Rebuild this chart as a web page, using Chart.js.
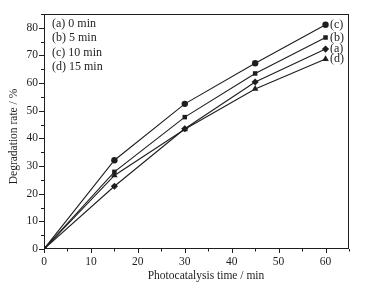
<!DOCTYPE html>
<html>
<head>
<meta charset="utf-8">
<script src="https://cdn.jsdelivr.net/npm/chart.js@4"></script>
<style>
  html, body { margin: 0; padding: 0; background: #fff; }
  #wrap { width: 371px; height: 288px; }
</style>
</head>
<body>
<div id="wrap"><canvas id="grafica" width="371" height="288"></canvas></div>
<script>
// Datos
const tiempos = [0, 15, 30, 45, 60];
const serieA = [0, 22.7, 43.5, 60.4, 72.3];
const serieB = [0, 27.9, 47.7, 63.5, 76.5];
const serieC = [0, 32.1, 52.5, 67.2, 81.1];
const serieD = [0, 26.6, 43.3, 57.9, 68.7];
const leyendas = ['(a) 0 min', '(b) 5 min', '(c) 10 min', '(d) 15 min'];
const etiquetas = ['(a)', '(b)', '(c)', '(d)'];
const marcadores = ['rectRot', 'rect', 'circle', 'triangle'];
const tituloX = 'Photocatalysis time / min';
const tituloY = 'Degradation rate / %';

const fuente = 'Liberation Serif';
const tinta = '#1e1e1e';

function puntos(valores) {
  return tiempos.map((t, i) => ({ x: t, y: valores[i] }));
}

const series = [serieA, serieB, serieC, serieD];
const datasets = series.map((s, i) => ({
  label: leyendas[i],
  data: puntos(s),
  borderColor: tinta,
  backgroundColor: tinta,
  borderWidth: 1.1,
  pointStyle: marcadores[i],
  pointRadius: marcadores[i] === 'rectRot' ? 3.6 : (marcadores[i] === 'triangle' ? 3.8 : 3.2),
  pointBorderWidth: 0,
  showLine: true,
  tension: 0
}));

// Marco, ticks menores, titulos y textos dentro del grafico
const decoracion = {
  id: 'decoracion',
  afterDraw(chart) {
    const c = chart.ctx;
    const a = chart.chartArea;
    const x = chart.scales.x;
    const y = chart.scales.y;
    c.save();
    c.strokeStyle = tinta;
    c.lineWidth = 1;
    c.strokeRect(a.left + 0.5, a.top + 0.5, a.right - a.left - 1, a.bottom - a.top - 1);

    c.beginPath();
    for (let v = 0; v <= 65; v += 5) {
      const px = Math.round(x.getPixelForValue(v)) + 0.5;
      const largo = v % 10 === 0 ? 4 : 2.5;
      c.moveTo(px, a.bottom);
      c.lineTo(px, a.bottom + largo);
    }
    for (let v = 0; v <= 85; v += 5) {
      const py = Math.round(y.getPixelForValue(v)) + 0.5;
      const largo = v % 10 === 0 ? 5 : 3;
      c.moveTo(a.left, py);
      c.lineTo(a.left - largo, py);
    }
    c.stroke();

    c.fillStyle = tinta;
    c.textBaseline = 'middle';

    // titulos de los ejes
    c.font = '11.5px "' + fuente + '"';
    c.textAlign = 'center';
    c.fillText(tituloX, (a.left + a.right) / 2 + 9.5, 276);
    c.save();
    c.translate(14, (a.top + a.bottom) / 2 + 5);
    c.rotate(-Math.PI / 2);
    c.fillText(tituloY, 0, 0);
    c.restore();

    c.textAlign = 'left';
    c.font = '12px "' + fuente + '"';
    leyendas.forEach((t, i) => {
      c.fillText(t, a.left + 8, a.top + 10 + i * 14.2);
    });

    c.font = '12px "' + fuente + '"';
    series.forEach((s, i) => {
      const ultimo = s.length - 1;
      const px = x.getPixelForValue(tiempos[ultimo]);
      const py = y.getPixelForValue(s[ultimo]);
      c.fillText(etiquetas[i], px + 4.5, py);
    });
    c.restore();
  }
};

const config = {
  type: 'scatter',
  data: { datasets: datasets },
  plugins: [decoracion],
  options: {
    responsive: false,
    animation: false,
    layout: { padding: { top: 14, right: 22, left: 0, bottom: 0 } },
    plugins: {
      legend: { display: false },
      tooltip: { enabled: false }
    },
    scales: {
      x: {
        type: 'linear',
        min: 0,
        max: 65,
        grid: { display: false, drawTicks: false, tickLength: 0 },
        border: { display: false },
        afterFit: (s) => { s.height = 39; },
        ticks: {
          stepSize: 5,
          padding: 6,
          autoSkip: false,
          maxRotation: 0,
          color: tinta,
          font: { family: fuente, size: 11.5 },
          callback: (v) => (v % 10 === 0 && v <= 60 ? v : '')
        }
      },
      y: {
        type: 'linear',
        min: 0,
        max: 85,
        grid: { display: false, drawTicks: false, tickLength: 0 },
        border: { display: false },
        afterFit: (s) => { s.width = 44; },
        ticks: {
          stepSize: 5,
          padding: 6,
          autoSkip: false,
          color: tinta,
          font: { family: fuente, size: 11.5 },
          callback: (v) => (v % 10 === 0 ? v : '')
        }
      }
    }
  }
};

// Esperamos la fuente antes de dibujar el canvas
const ctx = document.getElementById('grafica');
document.fonts.load('12px "' + fuente + '"').then(() => {
  new Chart(ctx, config);
});
</script>
</body>
</html>
